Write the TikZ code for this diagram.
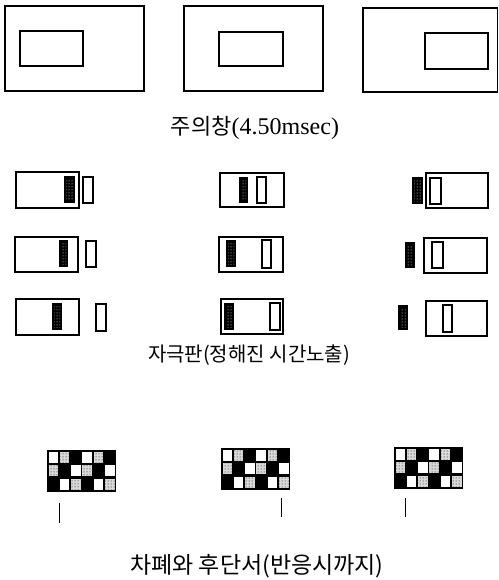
\documentclass[tikz,border=0pt]{standalone}
\usepackage{fontspec}
\setmainfont{Liberation Serif}
\newfontfamily\kr{Noto Sans CJK KR}
\usetikzlibrary{patterns,calc}
\tikzset{
  frame/.style={draw=black, line width=1.2pt},
  patchfill/.style={fill=black},
  patchdots/.style={pattern=dots, pattern color=white},
  cellwhite/.style={fill=white},
  cellspeck/.style={fill=gray!30},
  cellspeckdots/.style={pattern=dots, pattern color=black},
  tick/.style={draw=black, line width=1pt},
  caption/.style={anchor=base, inner sep=0pt}
}
\newcommand\myrect[4]{\draw[frame] (#1,#2) rectangle (#3,#4);}
\newcommand\mypatch[4]{%
  \fill[patchfill] (#1,#2) rectangle (#3,#4);
  \fill[patchdots] ($(#1,#2)+(2,3)$) rectangle ($(#3,#4)+(-2,-3)$);}
\newcommand\mymask[2]{%
  \fill[black] (#1,#2) rectangle ++(69,42);
  \foreach \r/\c in {0/0,0/3,1/2,1/5,2/1,2/4}{
    \fill[cellwhite] ({#1+1.5+\c*11.3},{#2+2+\r*13.3}) rectangle ++(9.5,11);}
  \foreach \r/\c in {0/1,0/4,1/0,1/3,2/2,2/5}{
    \fill[cellspeck] ({#1+1.5+\c*11.3},{#2+2+\r*13.3}) rectangle ++(9.5,11);
    \fill[cellspeckdots] ({#1+1.5+\c*11.3},{#2+2+\r*13.3}) rectangle ++(9.5,11);}
}
\begin{document}
\begin{tikzpicture}[x=1pt,y=-1pt]
\useasboundingbox (0,0) rectangle (498,580);
% fixation frames
\myrect{5}{6}{144}{91}   \myrect{20}{31}{83}{66}
\myrect{184}{6}{323}{91} \myrect{219}{32}{283}{66}
\myrect{363}{8}{497.3}{92} \myrect{425}{33}{488}{69}
\node[caption] (cap1) at (255,135) {{\kr\fontsize{22}{26}\selectfont 주의창}{\fontsize{24}{28}\selectfont(4.50msec)}};
% stimulus displays - left column
\myrect{16}{172}{79}{208} \mypatch{64}{176}{75}{203} \myrect{83}{177}{93}{203}
\myrect{15}{237}{78}{272} \mypatch{59}{240}{68}{267} \myrect{86}{241}{96}{267}
\myrect{16}{299}{79}{335} \mypatch{52}{303}{62}{330} \myrect{96}{304}{106}{331}
% middle column
\myrect{220}{173}{284}{207} \mypatch{239}{177}{248}{203} \myrect{257}{177}{266}{203}
\myrect{219}{237}{283}{272} \mypatch{226}{240}{236}{267} \myrect{262}{240}{271}{268}
\myrect{221}{299}{283}{334} \mypatch{224}{303}{234}{330} \myrect{270}{303}{280}{330}
% right column
\myrect{426}{173}{488}{208} \mypatch{412}{177}{423}{204} \myrect{430}{178}{441}{204}
\myrect{424}{238}{487}{273} \mypatch{405}{242}{415}{268} \myrect{432}{242}{443}{268}
\myrect{426}{301}{487}{336} \mypatch{398}{305}{408}{330} \myrect{443}{305}{452}{332}
\node[caption] (cap2) at (249,361) {\kr\fontsize{20}{24}\selectfont 자극판(정해진 시간노출)};
% masks
\mymask{47}{450} \draw[tick] (59,503) -- (59,523);
\mymask{221}{448} \draw[tick] (281,498) -- (281,517);
\mymask{394}{447} \draw[tick] (405,498) -- (405,517);
\node[caption] (cap3) at (257,573) {\kr\fontsize{23}{27}\selectfont 차폐와 후단서(반응시까지)};
\end{tikzpicture}
\end{document}
